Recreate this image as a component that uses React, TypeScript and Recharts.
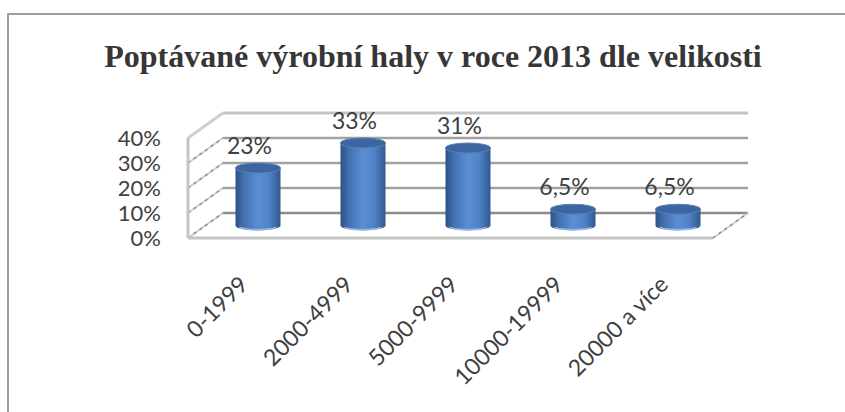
import { BarChart, Bar, XAxis, YAxis, CartesianGrid, LabelList } from 'recharts'

const categories = ['0-1999', '2000-4999', '5000-9999', '10000-19999', '20000 a více']
const shares = [23, 33, 31, 6.5, 6.5]
const yTicks = [0, 10, 20, 30, 40]

const data = categories.map((name, i) => ({ name, share: shares[i] }))

const W = 845
const H = 412
const MARGIN = { top: 138, right: 132, bottom: 74, left: 118 }
const PLOT_TOP = MARGIN.top
const PLOT_BOTTOM = H - MARGIN.bottom - 100
// depth of the fake 3d box
const DX = 35
const DY = 25
const FONT = 'Lato, "Open Sans", sans-serif'
const TEXT = '#404040'

const fmt = (v: number) => String(v).replace('.', ',') + '%'

function GridLine(props: any) {
  const { x1, y1, x2, y2, index } = props
  const isTop = Math.abs(y1 - PLOT_TOP) < 1
  const isBottom = Math.abs(y1 - PLOT_BOTTOM) < 1
  return (
    <g key={`grid-${index}`}>
      {/* back wall */}
      <line
        x1={x1 + DX} y1={y1 - DY} x2={x2 + DX} y2={y2 - DY}
        stroke={isTop ? '#c4c4c4' : isBottom ? '#8c8c8c' : '#a2a2a2'}
        strokeWidth={isTop ? 3 : 2.5}
      />
      {/* left wall */}
      <line x1={x1} y1={y1} x2={x1 + DX} y2={y1 - DY} stroke="#cfcfcf" strokeWidth={isTop ? 3 : 2} />
      {!isTop && (
        <line x1={x1} y1={y1} x2={x1 + DX} y2={y1 - DY} stroke="#8e8e8e" strokeWidth={1.5} strokeDasharray="3 4" />
      )}
      {isBottom && (
        <>
          <line x1={x1} y1={y1} x2={x2} y2={y2} stroke="#c4c4c4" strokeWidth={3} />
          <line x1={x2} y1={y2} x2={x2 + DX} y2={y2 - DY} stroke="#cfcfcf" strokeWidth={2} />
          <line x1={x2} y1={y2} x2={x2 + DX} y2={y2 - DY} stroke="#8e8e8e" strokeWidth={1.5} strokeDasharray="3 4" />
        </>
      )}
    </g>
  )
}

function Cylinder(props: any) {
  const { x, y, width, height } = props
  const rx = width / 2
  const ry = 5
  const cx = x + rx + DX / 2
  const top = y - DY / 2
  const bottom = y + height - DY / 2
  const left = cx - rx
  const right = cx + rx
  const body = `M${left},${top} L${left},${bottom} A${rx},${ry} 0 0 0 ${right},${bottom} L${right},${top} Z`
  return (
    <g>
      <path d={body} fill="url(#cylBody)" />
      <path
        d={`M${left + 4},${bottom + 2} A${rx},${ry} 0 0 0 ${right - 4},${bottom + 2}`}
        fill="none" stroke="#9db7df" strokeWidth={1.5}
      />
      <ellipse cx={cx} cy={top} rx={rx} ry={ry} fill="#3c669f" stroke="#5a7fb5" strokeWidth={1} />
    </g>
  )
}

function ShareLabel(props: any) {
  const { x, y, width, value } = props
  return (
    <text
      x={x + width / 2 + 9} y={y - DY / 2 - 22 + 8}
      textAnchor="middle" fontFamily={FONT} fontSize={23} fill={TEXT}
    >
      {fmt(value)}
    </text>
  )
}

function YTick({ y, payload }: any) {
  return (
    <text x={161} y={y + 8} textAnchor="end" fontFamily={FONT} fontSize={22} fill={TEXT}>
      {payload.value}%
    </text>
  )
}

function XTick({ x, payload }: any) {
  return (
    <text
      transform={`translate(${x + 9},${PLOT_BOTTOM + 48}) rotate(-45)`}
      textAnchor="end" fontFamily={FONT} fontSize={23} fill={TEXT}
    >
      {payload.value}
    </text>
  )
}

export default function App() {
  return (
    <div style={{ position: 'fixed', left: 0, top: 0, width: W, height: H, overflow: 'hidden', background: '#fff' }}>
      <div
        style={{
          position: 'absolute', left: 7, top: 13, width: 920, height: 500,
          border: '2px solid #a39b98', boxSizing: 'border-box',
        }}
      />
      <svg width={W} height={H} style={{ position: 'absolute', left: 0, top: 0 }}>
        <text
          x={433} y={67} textAnchor="middle"
          fontFamily='"Liberation Serif", "Times New Roman", serif'
          fontWeight="bold" fontSize={32} fill="#363636"
        >
          Poptávané výrobní haly v roce 2013 dle velikosti
        </text>
      </svg>
      <div style={{ position: 'absolute', left: 0, top: 0 }}>
        <BarChart width={W} height={H} data={data} margin={MARGIN}>
          <defs>
            <linearGradient id="cylBody" x1="0" y1="0" x2="1" y2="0">
              <stop offset="0" stopColor="#2c5288" />
              <stop offset="0.18" stopColor="#426fae" />
              <stop offset="0.5" stopColor="#5b8fd5" />
              <stop offset="0.75" stopColor="#4f82c6" />
              <stop offset="1" stopColor="#30598f" />
            </linearGradient>
          </defs>
          <CartesianGrid vertical={false} horizontal={GridLine} />
          <XAxis
            dataKey="name" height={100} axisLine={false} tickLine={false}
            interval={0} tick={XTick}
          />
          <YAxis
            width={70} domain={[0, 40]} ticks={yTicks} interval={0}
            axisLine={{ stroke: '#c4c4c4', strokeWidth: 3 }} tickLine={false} tick={YTick}
          />
          <Bar dataKey="share" barSize={45} shape={Cylinder} isAnimationActive={false}>
            <LabelList dataKey="share" content={ShareLabel} />
          </Bar>
        </BarChart>
      </div>
    </div>
  )
}
